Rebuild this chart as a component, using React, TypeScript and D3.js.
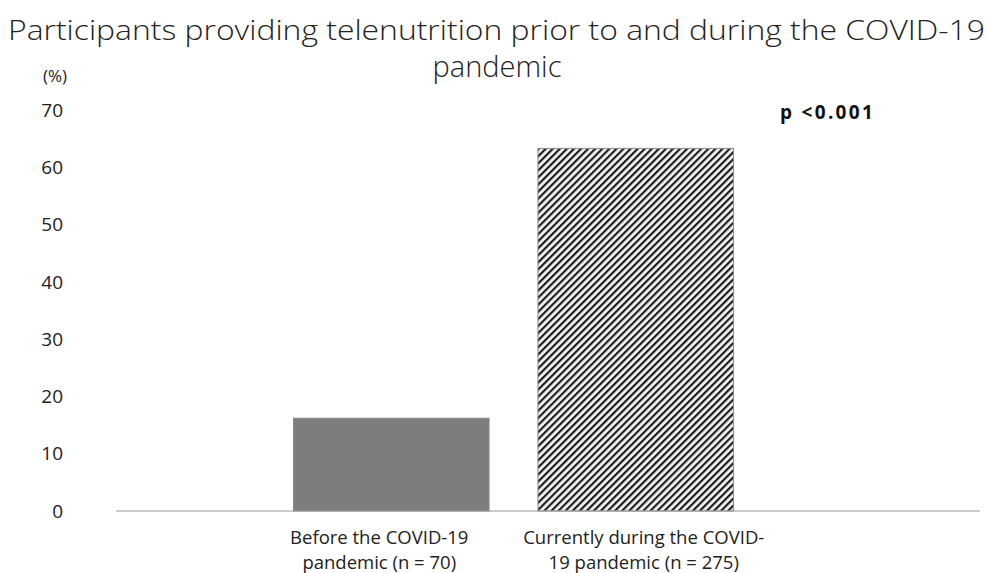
import React from 'react';
import * as d3 from 'd3';

const W = 989;
const H = 573;

const categories = ['Before the COVID-19 pandemic (n = 70)', 'Currently during the COVID-19 pandemic (n = 275)'];
const categoryLines = [
  ['Before the COVID-19', 'pandemic (n = 70)'],
  ['Currently during the COVID-', '19 pandemic (n = 275)'],
];
const values = [16.2, 63.3];
const yTicks = [0, 10, 20, 30, 40, 50, 60, 70];
const titleLines = ['Participants providing telenutrition prior to and during the COVID-19', 'pandemic'];

const FONT = "'Open Sans', 'Noto Sans', sans-serif";

export default function App() {
  const y = d3.scaleLinear().domain([0, 70]).range([511, 110]);
  const x = d3.scaleBand<string>().domain(categories).range([269, 758]).paddingInner(0.2).paddingOuter(0.1);
  const fills = ['#7d7d7d', 'url(#hatch)'];
  // label centres sit a little off the bar centres in the original
  const labelShift = [-12, 8];

  return (
    <svg width={W} height={H} style={{ position: 'absolute', left: 0, top: 0 }} fontFamily={FONT}>
      <defs>
        <pattern id="hatch" patternUnits="userSpaceOnUse" width={5} height={5} patternTransform="rotate(45)">
          <rect width={5} height={5} fill="#f4f4f4" />
          <rect x={0} y={0} width={2.2} height={5} fill="#1e1e1e" />
        </pattern>
      </defs>
      <rect width={W} height={H} fill="#fff" />
      <text x={8} y={40} fontSize={27} fill="#222" fontWeight={300} textLength={977} lengthAdjust="spacingAndGlyphs">
        {titleLines[0]}
      </text>
      <text x={497} y={77} textAnchor="middle" fontSize={29} fill="#222" fontWeight={300}>
        {titleLines[1]}
      </text>
      <text x={55} y={82} textAnchor="middle" fontSize={17} fill="#222">(%)</text>
      {yTicks.map((t) => (
        <text key={t} x={63} y={y(t)} dy="0.35em" textAnchor="end" fontSize={19} fill="#222">
          {t}
        </text>
      ))}
      {categories.map((c, i) => {
        const bx = x(c)!;
        return (
          <rect
            key={c}
            x={bx}
            y={y(values[i])}
            width={x.bandwidth()}
            height={y(0) - y(values[i])}
            fill={fills[i]}
            stroke="#8a8a8a"
            strokeWidth={1}
          />
        );
      })}
      <line x1={116} x2={980} y1={y(0)} y2={y(0)} stroke="#9a9a9a" strokeWidth={1.2} />
      {categories.map((c, i) => {
        const cx = x(c)! + x.bandwidth() / 2 + labelShift[i];
        return (
          <text key={c} textAnchor="middle" fontSize={18.5} fill="#222">
            {categoryLines[i].map((l, j) => (
              <tspan key={j} x={cx} y={544 + j * 25}>
                {l}
              </tspan>
            ))}
          </text>
        );
      })}
      <text x={780} y={119} fontSize={19} fontWeight={700} fill="#111" letterSpacing={2.3}>p &lt;0.001</text>
    </svg>
  );
}
